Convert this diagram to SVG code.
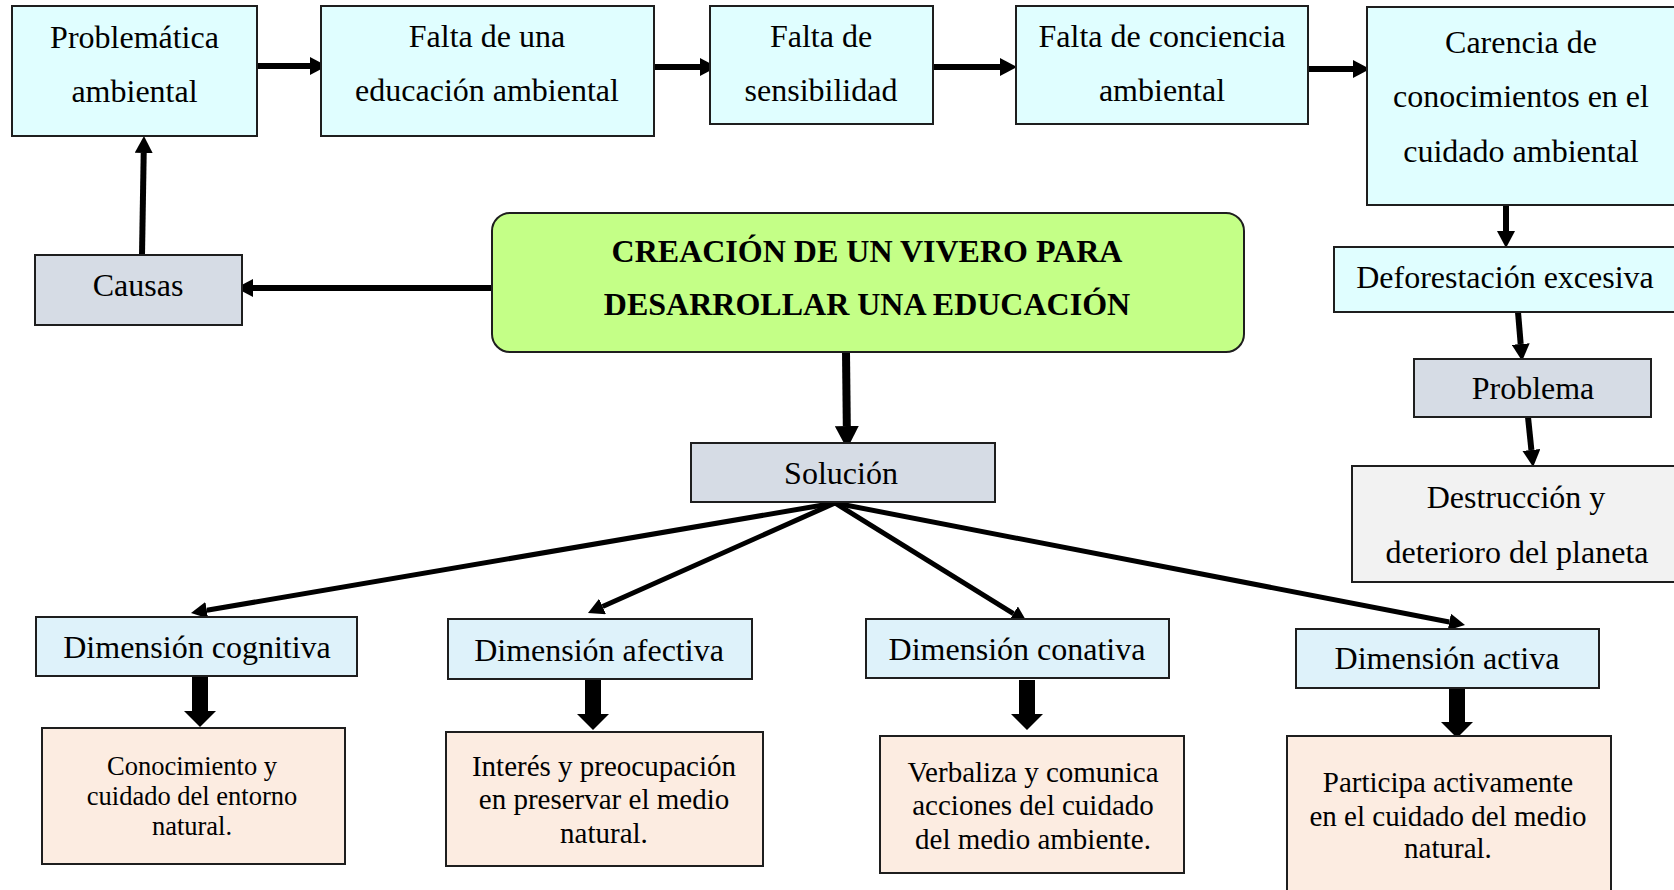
<svg xmlns="http://www.w3.org/2000/svg" width="1674" height="890" viewBox="0 0 1674 890">
<style>
.bx{stroke:#1e1e1e;stroke-width:2}
.cy{fill:#E0FEFF}
.gb{fill:#D6DCE5}
.gr{fill:#C4FF87}
.dm{fill:#DEF2FA}
.pc{fill:#FCECE1}
.lg{fill:#F2F2F2}
text{font-family:"Liberation Serif","Times New Roman",serif;fill:#000;text-anchor:middle}
.t32{font-size:32px}
.t29{font-size:29px}
.t26{font-size:26.5px}
.tb{font-size:32px;font-weight:bold}
.ln{stroke:#000;fill:none}
.w6{stroke-width:6}
.w5{stroke-width:5}
.w8{stroke-width:8}
.blk{fill:#000}
</style>
<defs>
<marker id="ha" viewBox="0 0 17 18" markerWidth="17" markerHeight="18" refX="0" refY="9" orient="auto" markerUnits="userSpaceOnUse"><path d="M0,0 L17,9 L0,18 Z" fill="#000"/></marker>
<marker id="hb" viewBox="0 0 16 17" markerWidth="16" markerHeight="17" refX="0" refY="8.5" orient="auto" markerUnits="userSpaceOnUse"><path d="M0,0 L16,8.5 L0,17 Z" fill="#000"/></marker>
<marker id="hc" viewBox="0 0 23 24" markerWidth="23" markerHeight="24" refX="0" refY="12" orient="auto" markerUnits="userSpaceOnUse"><path d="M0,0 L23,12 L0,24 Z" fill="#000"/></marker>
<path id="block" d="M-8,0 H8 V34 H16 L0,50 L-16,34 H-8 Z"/>
</defs>
<rect width="1674" height="890" fill="#fff"/>

<g id="connectors">
<line class="ln w6" x1="257" y1="66" x2="310" y2="66" marker-end="url(#ha)"/>
<line class="ln w6" x1="655" y1="67" x2="700" y2="67" marker-end="url(#ha)"/>
<line class="ln w6" x1="934" y1="67" x2="1000" y2="67" marker-end="url(#ha)"/>
<line class="ln w6" x1="1309" y1="69" x2="1353" y2="69" marker-end="url(#ha)"/>
<line class="ln w6" x1="142" y1="255" x2="143.7" y2="153" marker-end="url(#ha)"/>
<line class="ln w6" x1="492" y1="288" x2="253" y2="288" marker-end="url(#ha)"/>
<line class="ln w8" x1="846" y1="352" x2="846.8" y2="426" marker-end="url(#hc)"/>
<line class="ln w6" x1="1506" y1="205" x2="1506" y2="231" marker-end="url(#ha)"/>
<line class="ln w6" x1="1518" y1="312" x2="1520.7" y2="344" marker-end="url(#ha)"/>
<line class="ln w6" x1="1528" y1="417" x2="1531.4" y2="450" marker-end="url(#ha)"/>
<line class="ln w5" x1="835" y1="503" x2="206.8" y2="610.3" marker-end="url(#hb)"/>
<line class="ln w5" x1="835" y1="503" x2="602.6" y2="606.5" marker-end="url(#hb)"/>
<line class="ln w5" x1="835" y1="503" x2="1013.4" y2="613.6" marker-end="url(#hb)"/>
<line class="ln w5" x1="835" y1="503" x2="1449.3" y2="622" marker-end="url(#hb)"/>
<use href="#block" class="blk" transform="translate(200,677)"/>
<use href="#block" class="blk" transform="translate(593,680)"/>
<use href="#block" class="blk" transform="translate(1027,680)"/>
<use href="#block" class="blk" transform="translate(1457,688)"/>
</g>

<g id="n-problematica"><rect class="bx cy" x="12" y="6" width="245" height="130"/>
<text class="t32" x="134.5" y="48">Problemática</text><text class="t32" x="134.5" y="102">ambiental</text></g>

<g id="n-falta-educacion"><rect class="bx cy" x="321" y="6" width="333" height="130"/>
<text class="t32" x="487" y="47">Falta de una</text><text class="t32" x="487" y="101">educación ambiental</text></g>

<g id="n-falta-sensibilidad"><rect class="bx cy" x="710" y="6" width="223" height="118"/>
<text class="t32" x="821" y="47">Falta de</text><text class="t32" x="821" y="101">sensibilidad</text></g>

<g id="n-falta-conciencia"><rect class="bx cy" x="1016" y="6" width="292" height="118"/>
<text class="t32" x="1162" y="47">Falta de conciencia</text><text class="t32" x="1162" y="101">ambiental</text></g>

<g id="n-carencia"><rect class="bx cy" x="1367" y="7" width="320" height="198"/>
<text class="t32" x="1521" y="53">Carencia de</text><text class="t32" x="1521" y="107">conocimientos en el</text><text class="t32" x="1521" y="162">cuidado ambiental</text></g>

<g id="n-deforestacion"><rect class="bx cy" x="1334" y="247" width="350" height="65"/>
<text class="t32" x="1505" y="288">Deforestación excesiva</text></g>

<g id="n-problema"><rect class="bx gb" x="1414" y="359" width="237" height="58"/>
<text class="t32" x="1533" y="399">Problema</text></g>

<g id="n-destruccion"><rect class="bx lg" x="1352" y="466" width="332" height="116"/>
<text class="t32" x="1516" y="508">Destrucción y</text><text class="t32" x="1517" y="563">deterioro del planeta</text></g>

<g id="n-causas"><rect class="bx gb" x="35" y="255" width="207" height="70"/>
<text class="t32" x="138" y="296">Causas</text></g>

<g id="n-creacion"><rect class="bx gr" x="492" y="213" width="752" height="139" rx="18" ry="18"/>
<text class="tb" x="867" y="262">CREACIÓN DE UN VIVERO PARA</text><text class="tb" x="867" y="315">DESARROLLAR UNA EDUCACIÓN</text></g>

<g id="n-solucion"><rect class="bx gb" x="691" y="443" width="304" height="59"/>
<text class="t32" x="841" y="484">Solución</text></g>

<g id="n-cognitiva"><rect class="bx dm" x="36" y="617" width="321" height="59"/>
<text class="t32" x="197" y="658">Dimensión cognitiva</text></g>

<g id="n-afectiva"><rect class="bx dm" x="448" y="619" width="304" height="60"/>
<text class="t32" x="599" y="661">Dimensión afectiva</text></g>

<g id="n-conativa"><rect class="bx dm" x="866" y="619" width="303" height="59"/>
<text class="t32" x="1017" y="660">Dimensión conativa</text></g>

<g id="n-activa"><rect class="bx dm" x="1296" y="629" width="303" height="59"/>
<text class="t32" x="1447" y="669">Dimensión activa</text></g>

<g id="n-conocimiento"><rect class="bx pc" x="42" y="728" width="303" height="136"/>
<text class="t26" x="192" y="775">Conocimiento y</text><text class="t26" x="192" y="805">cuidado del entorno</text><text class="t26" x="192" y="835">natural.</text></g>

<g id="n-interes"><rect class="bx pc" x="446" y="732" width="317" height="134"/>
<text class="t29" x="604" y="776">Interés y preocupación</text><text class="t29" x="604" y="809">en preservar el medio</text><text class="t29" x="604" y="843">natural.</text></g>

<g id="n-verbaliza"><rect class="bx pc" x="880" y="736" width="304" height="137"/>
<text class="t29" x="1033" y="782">Verbaliza y comunica</text><text class="t29" x="1033" y="815">acciones del cuidado</text><text class="t29" x="1033" y="849">del medio ambiente.</text></g>

<g id="n-participa"><rect class="bx pc" x="1287" y="736" width="324" height="170"/>
<text class="t29" x="1448" y="792">Participa activamente</text><text class="t29" x="1448" y="826">en el cuidado del medio</text><text class="t29" x="1448" y="858">natural.</text></g>
</svg>
